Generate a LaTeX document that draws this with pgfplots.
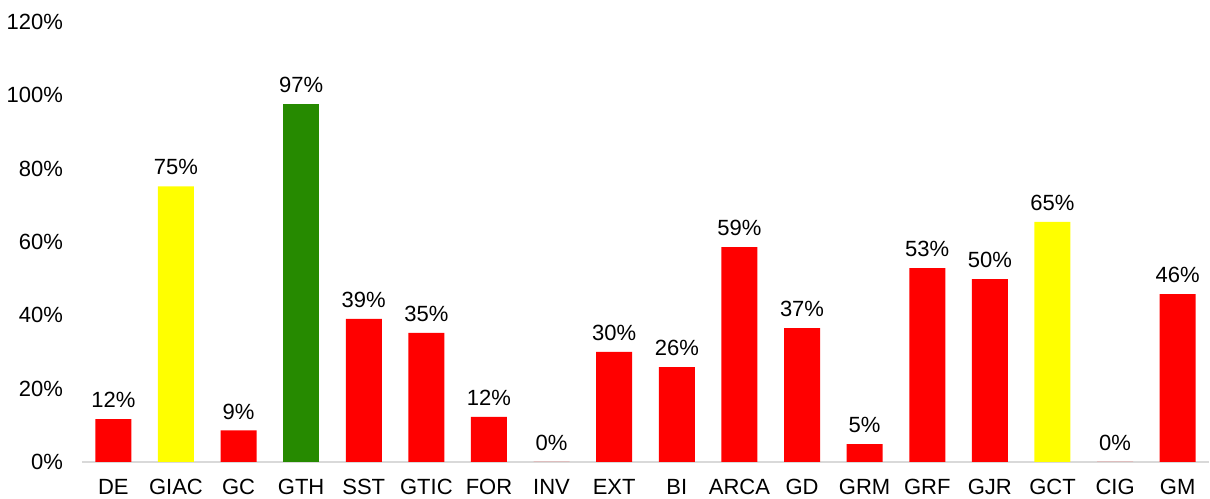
\documentclass[border=0pt]{standalone}
\usepackage{fontspec}
\setmainfont{Liberation Sans}
\usepackage{pgfplots}
\pgfplotsset{compat=1.18}
\definecolor{barred}{RGB}{255,0,0}
\definecolor{baryellow}{RGB}{255,255,0}
\definecolor{bargreen}{RGB}{38,138,0}
\definecolor{axisgray}{RGB}{217,217,217}
\begin{document}
\begin{tikzpicture}[font=\fontsize{11}{13}\selectfont]
\useasboundingbox (-41pt,-18pt) rectangle (564pt,231pt);
\begin{axis}[
  at={(0,0)}, anchor=south west,
  scale only axis,
  width=563.5pt, height=220pt,
  xmin=-0.5, xmax=17.5,
  ymin=0, ymax=120,
  ytick={0,20,40,60,80,100,120},
  yticklabel={\pgfmathprintnumber{\tick}\%},
  /pgf/number format/assume math mode=true,
  xtick={0,...,17},
  xticklabels={DE,GIAC,GC,GTH,SST,GTIC,FOR,INV,EXT,BI,ARCA,GD,GRM,GRF,GJR,GCT,CIG,GM},
  major tick length=0pt,
  axis y line*=left,
  axis x line*=bottom,
  y axis line style={draw=none},
  x axis line style={draw=axisgray, line width=0.8pt, -},
  y tick label style={anchor=east, xshift=-6pt},
  x tick label style={yshift=-5pt},
  ybar, bar width=18pt, bar shift=0pt,
  point meta=explicit symbolic,
  nodes near coords,
  nodes near coords style={font=\fontsize{11}{13}\selectfont, yshift=2pt},
  clip=false,
]
\addplot[fill=barred, draw=none] coordinates {
  (0,11.7) [12\%]
  (2,8.6) [9\%]
  (4,39.0) [39\%]
  (5,35.2) [35\%]
  (6,12.3) [12\%]
  (7,0) [0\%]
  (8,30.0) [30\%]
  (9,25.9) [26\%]
  (10,58.6) [59\%]
  (11,36.5) [37\%]
  (12,4.9) [5\%]
  (13,52.9) [53\%]
  (14,49.9) [50\%]
  (16,0) [0\%]
  (17,45.8) [46\%]
};
\addplot[fill=baryellow, draw=none] coordinates {
  (1,75.2) [75\%]
  (15,65.5) [65\%]
};
\addplot[fill=bargreen, draw=none] coordinates {
  (3,97.6) [97\%]
};
\end{axis}
\end{tikzpicture}
\end{document}
